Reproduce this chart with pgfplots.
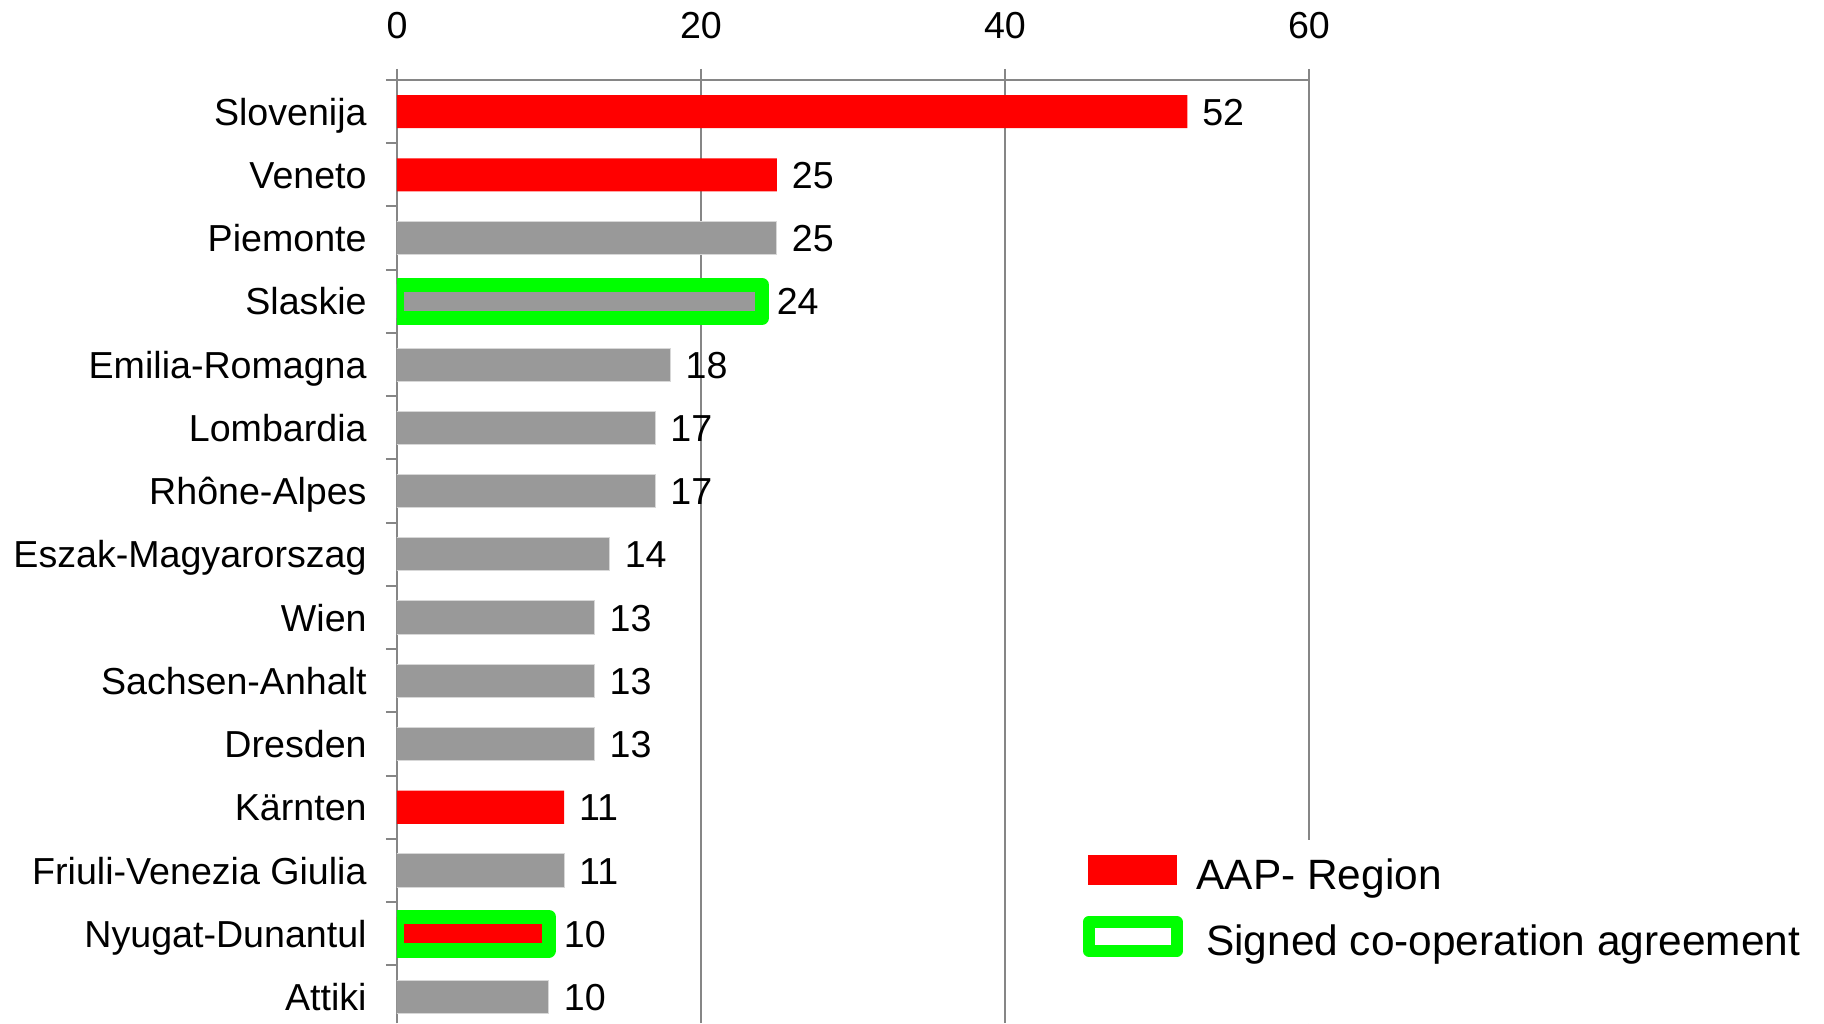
\documentclass[border=0pt]{standalone}
\usepackage{fontspec}
\setmainfont{Liberation Sans}
\usepackage{pgfplots}
\pgfplotsset{compat=1.18}

\definecolor{barred}{RGB}{255,0,0}
\definecolor{bargray}{RGB}{153,153,153}
\definecolor{baredge}{RGB}{215,215,215}
\definecolor{signgreen}{RGB}{0,255,0}
\definecolor{axisgray}{RGB}{134,134,134}

\begin{document}
\begin{tikzpicture}
\begin{axis}[
  at={(0pt,0pt)}, anchor=north west,
  scale only axis, width=456pt, height=471.5pt,
  xmin=0, xmax=60, ymin=-0.41, ymax=14.5,
  xbar, bar width=16.6pt, bar shift=0pt,
  axis x line=top, axis y line=left,
  axis line style={-, draw=axisgray, line width=1pt},
  xtick={0,20,40,60},
  ytick={0,...,14},
  yticklabels={Attiki, Nyugat-Dunantul, Friuli-Venezia Giulia, Kärnten, Dresden,
    Sachsen-Anhalt, Wien, Eszak-Magyarorszag, Rhône-Alpes, Lombardia,
    Emilia-Romagna, Slaskie, Piemonte, Veneto, Slovenija},
  minor ytick={0.5,1.5,...,14.5},
  tick align=outside,
  major tick length=5.5pt, minor tick length=5.5pt,
  tick style={draw=axisgray, line width=1pt},
  every major y tick/.append style={draw=none},
  xmajorgrids, grid style={draw=axisgray, line width=1pt},
  /pgf/number format/assume math mode=true,
  tick label style={font=\fontsize{18.8}{22}\selectfont, inner sep=0pt},
  xticklabel style={anchor=base, yshift=15.2pt},
  yticklabel style={anchor=base east, xshift=-9.5pt, yshift=-6.73pt},
  point meta=x,
  nodes near coords style={anchor=base west, inner sep=0pt, xshift=7.25pt,
    yshift=-6.73pt, font=\fontsize{18.8}{22}\selectfont, text=black},
  clip mode=individual,
  legend cell align=left,
  legend style={at={(axis cs:45.11,2.347)}, anchor=north west, draw=none,
    fill=none, inner sep=0pt, row sep=12.15pt, column sep=7pt,
    font=\fontsize{21.2}{25}\selectfont,
    nodes={inner sep=0pt, text height=20pt, text depth=1pt}},
]
% AAP regions
\addplot[forget plot, fill=barred, draw=none, nodes near coords]
  coordinates {(52,14) (25,13) (11,3) (10,1)};
% other regions
\addplot[forget plot, fill=bargray, draw=baredge, line width=0.5pt, nodes near coords]
  coordinates {(25,12) (24,11) (18,10) (17,9) (17,8) (14,7) (13,6) (13,5)
    (13,4) (11,2) (10,0)};
% signed co-operation agreement
\addplot[forget plot, fill=none, draw=signgreen, line width=7.25pt, line join=round]
  coordinates {(24,11) (10,1)};

% legend sits on a white patch over the 60 grid line
\fill[white] (axis cs:50,-0.41) rectangle (axis cs:62,2.48);

\addlegendimage{legend image code/.code={
  \fill[barred] (0pt,-7.25pt) rectangle (44pt,7.25pt);}}
\addlegendentry{AAP- Region}
\addlegendimage{legend image code/.code={
  \draw[signgreen, line width=5.75pt, line join=round] (0pt,-7.25pt) rectangle (44pt,7.25pt);}}
\addlegendentry{\hspace*{4.8pt}Signed co-operation agreement}
\end{axis}
\pgfresetboundingbox
\path[use as bounding box] (-198.5pt,40pt) rectangle (713.5pt,-471.5pt);
\end{tikzpicture}
\end{document}
